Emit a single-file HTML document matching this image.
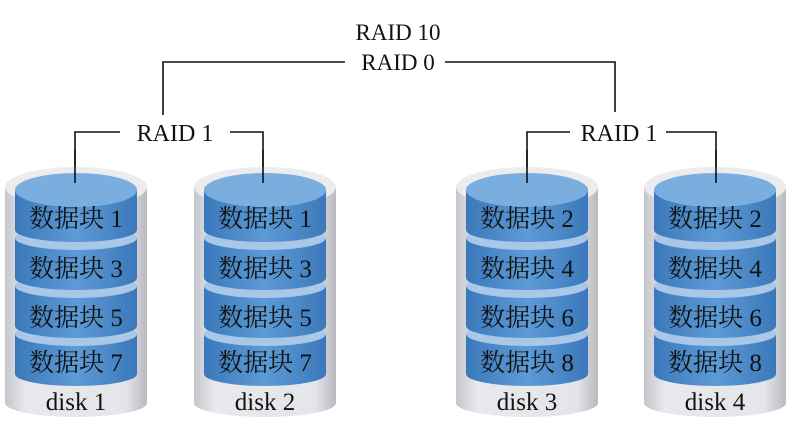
<!DOCTYPE html>
<html><head><meta charset="utf-8"><style>
body{margin:0;background:#fff;}
svg text{font-family:"Liberation Serif","Noto Serif CJK SC",serif;fill:#111;}
</style></head><body>
<svg width="797" height="430" viewBox="0 0 797 430" xmlns="http://www.w3.org/2000/svg">
<defs>
<linearGradient id="g" x1="0" x2="1"><stop offset="0" stop-color="#c4c6cc"/><stop offset="0.15" stop-color="#e8e9ec"/><stop offset="0.85" stop-color="#e4e5e8"/><stop offset="1" stop-color="#b8bac0"/></linearGradient>
<linearGradient id="b" x1="0" x2="1"><stop offset="0" stop-color="#3a78bb"/><stop offset="0.5" stop-color="#5d9bd6"/><stop offset="1" stop-color="#3a78bb"/></linearGradient>
</defs>
<g stroke="#111" stroke-width="1.6" fill="none">
<polyline points="345,62 163,62 163,115"/><polyline points="445,62 615,62 615,112"/>
<polyline points="120,132 75,132 75,183"/><polyline points="230,132 263,132 263,183"/>
<polyline points="570,132 527,132 527,183"/><polyline points="666,132 716,132 716,183"/>
</g>
<text x="398" y="40" font-size="23" text-anchor="middle">RAID 10</text>
<text x="398" y="70" font-size="23" text-anchor="middle">RAID 0</text>
<text x="175" y="141" font-size="24" text-anchor="middle">RAID 1</text>
<text x="619" y="141" font-size="24" text-anchor="middle">RAID 1</text>

<g transform="translate(76,0)">
<path d="M-71,187 L-71,403 A71,14 0 0 0 71,403 L71,187 Z" fill="url(#g)"/>
<ellipse cx="0" cy="187" rx="71" ry="20" fill="#ececef"/>
<path d="M-61,334 L-61,374 A61,12 0 0 0 61,374 L61,334 Z" fill="url(#b)"/><ellipse cx="0" cy="334" rx="61" ry="12" fill="#a9c8e8"/>
<path d="M-61,286 L-61,326 A61,12 0 0 0 61,326 L61,286 Z" fill="url(#b)"/><ellipse cx="0" cy="286" rx="61" ry="12" fill="#a9c8e8"/>
<path d="M-61,238 L-61,278 A61,12 0 0 0 61,278 L61,238 Z" fill="url(#b)"/><ellipse cx="0" cy="238" rx="61" ry="12" fill="#a9c8e8"/>
<path d="M-61,190 L-61,230 A61,12 0 0 0 61,230 L61,190 Z" fill="url(#b)"/><ellipse cx="0" cy="190" rx="61" ry="17" fill="#7aaedf"/>
<text x="0" y="227" font-size="25" text-anchor="middle">数据块 1</text>
<text x="0" y="277" font-size="25" text-anchor="middle">数据块 3</text>
<text x="0" y="326" font-size="25" text-anchor="middle">数据块 5</text>
<text x="0" y="371" font-size="25" text-anchor="middle">数据块 7</text>
<text x="0" y="410" font-size="25" text-anchor="middle">disk 1</text>
</g>
<g transform="translate(265,0)">
<path d="M-71,187 L-71,403 A71,14 0 0 0 71,403 L71,187 Z" fill="url(#g)"/>
<ellipse cx="0" cy="187" rx="71" ry="20" fill="#ececef"/>
<path d="M-61,334 L-61,374 A61,12 0 0 0 61,374 L61,334 Z" fill="url(#b)"/><ellipse cx="0" cy="334" rx="61" ry="12" fill="#a9c8e8"/>
<path d="M-61,286 L-61,326 A61,12 0 0 0 61,326 L61,286 Z" fill="url(#b)"/><ellipse cx="0" cy="286" rx="61" ry="12" fill="#a9c8e8"/>
<path d="M-61,238 L-61,278 A61,12 0 0 0 61,278 L61,238 Z" fill="url(#b)"/><ellipse cx="0" cy="238" rx="61" ry="12" fill="#a9c8e8"/>
<path d="M-61,190 L-61,230 A61,12 0 0 0 61,230 L61,190 Z" fill="url(#b)"/><ellipse cx="0" cy="190" rx="61" ry="17" fill="#7aaedf"/>
<text x="0" y="227" font-size="25" text-anchor="middle">数据块 1</text>
<text x="0" y="277" font-size="25" text-anchor="middle">数据块 3</text>
<text x="0" y="326" font-size="25" text-anchor="middle">数据块 5</text>
<text x="0" y="371" font-size="25" text-anchor="middle">数据块 7</text>
<text x="0" y="410" font-size="25" text-anchor="middle">disk 2</text>
</g>
<g transform="translate(527,0)">
<path d="M-71,187 L-71,403 A71,14 0 0 0 71,403 L71,187 Z" fill="url(#g)"/>
<ellipse cx="0" cy="187" rx="71" ry="20" fill="#ececef"/>
<path d="M-61,334 L-61,374 A61,12 0 0 0 61,374 L61,334 Z" fill="url(#b)"/><ellipse cx="0" cy="334" rx="61" ry="12" fill="#a9c8e8"/>
<path d="M-61,286 L-61,326 A61,12 0 0 0 61,326 L61,286 Z" fill="url(#b)"/><ellipse cx="0" cy="286" rx="61" ry="12" fill="#a9c8e8"/>
<path d="M-61,238 L-61,278 A61,12 0 0 0 61,278 L61,238 Z" fill="url(#b)"/><ellipse cx="0" cy="238" rx="61" ry="12" fill="#a9c8e8"/>
<path d="M-61,190 L-61,230 A61,12 0 0 0 61,230 L61,190 Z" fill="url(#b)"/><ellipse cx="0" cy="190" rx="61" ry="17" fill="#7aaedf"/>
<text x="0" y="227" font-size="25" text-anchor="middle">数据块 2</text>
<text x="0" y="277" font-size="25" text-anchor="middle">数据块 4</text>
<text x="0" y="326" font-size="25" text-anchor="middle">数据块 6</text>
<text x="0" y="371" font-size="25" text-anchor="middle">数据块 8</text>
<text x="0" y="410" font-size="25" text-anchor="middle">disk 3</text>
</g>
<g transform="translate(715,0)">
<path d="M-71,187 L-71,403 A71,14 0 0 0 71,403 L71,187 Z" fill="url(#g)"/>
<ellipse cx="0" cy="187" rx="71" ry="20" fill="#ececef"/>
<path d="M-61,334 L-61,374 A61,12 0 0 0 61,374 L61,334 Z" fill="url(#b)"/><ellipse cx="0" cy="334" rx="61" ry="12" fill="#a9c8e8"/>
<path d="M-61,286 L-61,326 A61,12 0 0 0 61,326 L61,286 Z" fill="url(#b)"/><ellipse cx="0" cy="286" rx="61" ry="12" fill="#a9c8e8"/>
<path d="M-61,238 L-61,278 A61,12 0 0 0 61,278 L61,238 Z" fill="url(#b)"/><ellipse cx="0" cy="238" rx="61" ry="12" fill="#a9c8e8"/>
<path d="M-61,190 L-61,230 A61,12 0 0 0 61,230 L61,190 Z" fill="url(#b)"/><ellipse cx="0" cy="190" rx="61" ry="17" fill="#7aaedf"/>
<text x="0" y="227" font-size="25" text-anchor="middle">数据块 2</text>
<text x="0" y="277" font-size="25" text-anchor="middle">数据块 4</text>
<text x="0" y="326" font-size="25" text-anchor="middle">数据块 6</text>
<text x="0" y="371" font-size="25" text-anchor="middle">数据块 8</text>
<text x="0" y="410" font-size="25" text-anchor="middle">disk 4</text>
</g>
<g stroke="#111" stroke-width="1.6"><line x1="75" y1="150" x2="75" y2="183"/><line x1="263" y1="150" x2="263" y2="183"/><line x1="527" y1="150" x2="527" y2="183"/><line x1="716" y1="150" x2="716" y2="183"/></g>
</svg>
</body></html>
